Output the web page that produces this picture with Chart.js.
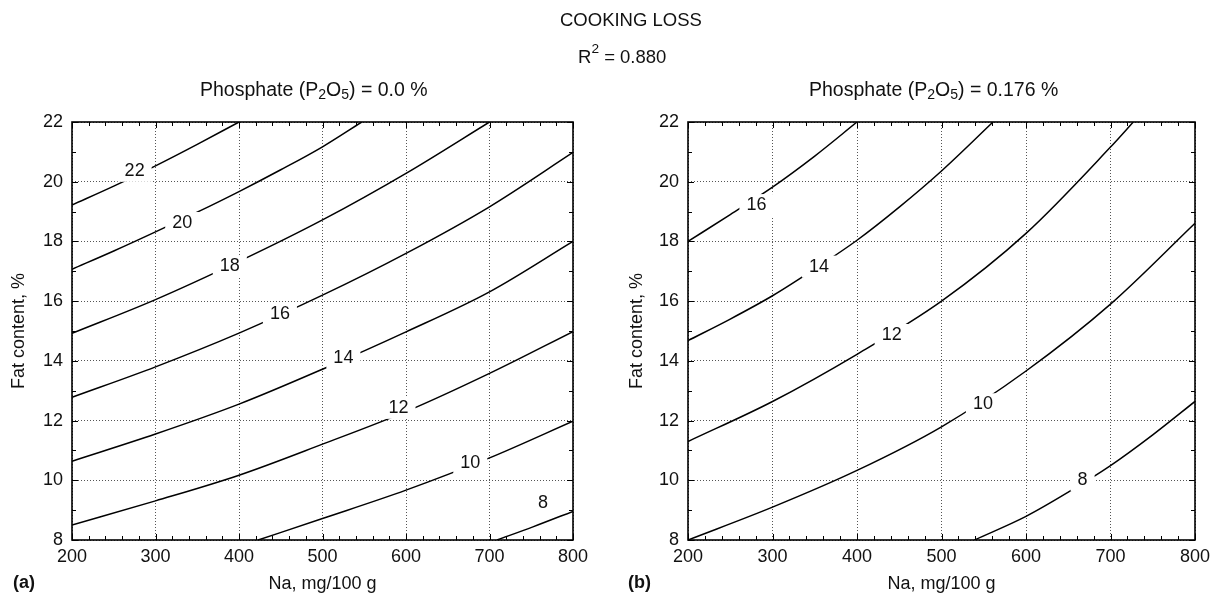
<!DOCTYPE html>
<html>
<head>
<meta charset="utf-8">
<script src="https://cdn.jsdelivr.net/npm/chart.js@4.4.0/dist/chart.umd.min.js"></script>
<style>
html,body{margin:0;padding:0;background:#fff;}
#wrap{position:relative;width:1218px;height:597px;overflow:hidden;font-family:"Liberation Sans",Arial,Helvetica,sans-serif;color:#111;}
canvas{position:absolute;top:0;}
.t{position:absolute;white-space:nowrap;font-size:18.5px;line-height:18.5px;}
.s{font-size:19.5px;line-height:19.5px;}
.t sub{font-size:0.72em;vertical-align:-0.18em;line-height:0;}
.t sup{font-size:0.74em;vertical-align:10px;line-height:0;}
.b{font-weight:bold;font-size:18px;line-height:18px;}
</style>
</head>
<body>
<div id="wrap">
  <canvas id="cA" width="609" height="597" style="left:0px;width:609px;height:597px"></canvas>
  <canvas id="cB" width="609" height="597" style="left:609px;width:609px;height:597px"></canvas>
  <div class="t" style="left:560px;top:11px;">COOKING LOSS</div>
  <div class="t" style="left:578px;top:47.5px;">R<sup>2</sup> = 0.880</div>
  <div class="t s" style="left:200px;top:80px;">Phosphate (P<sub>2</sub>O<sub>5</sub>) = 0.0 %</div>
  <div class="t s" style="left:809px;top:80px;">Phosphate (P<sub>2</sub>O<sub>5</sub>) = 0.176 %</div>
  <div class="t b" style="left:13px;top:573px;">(a)</div>
  <div class="t b" style="left:628px;top:573px;">(b)</div>
</div>
<script>
// ---------- DATA ----------
const xTicks = [200, 300, 400, 500, 600, 700, 800];        // Na, mg/100 g
const yTicks = [8, 10, 12, 14, 16, 18, 20, 22];            // Fat content, %

// Panel (a): Phosphate 0.0 %  — contour lines as [Na, Fat] pairs
const a22 = [[200,19.22],[250,19.85],[300,20.53],[350,21.25],[400,22.0]];
const a20 = [[200,17.07],[250,17.68],[300,18.32],[350,18.98],[400,19.67],[450,20.4],[500,21.17],[547,22.0]];
const a18 = [[200,14.92],[300,16.05],[400,17.33],[500,18.72],[600,20.28],[700,22.0]];
const a16 = [[200,12.78],[300,13.8],[400,14.93],[500,16.2],[600,17.6],[700,19.16],[800,20.98]];
const a14 = [[200,10.64],[300,11.55],[400,12.55],[500,13.72],[600,14.97],[700,16.31],[800,18.0]];
const a12 = [[200,8.5],[300,9.31],[400,10.17],[500,11.21],[600,12.3],[700,13.58],[800,14.98]];
const a10 = [[423,8.0],[500,8.72],[600,9.67],[700,10.75],[800,11.98]];
const a8  = [[709,8.0],[752,8.44],[800,8.96]];
const aLines = [a22, a20, a18, a16, a14, a12, a10, a8];
// contour labels [Na, Fat, level]
const aLabels = [[275,20.4,22],[332,18.65,20],[389,17.2,18],[449,15.6,16],[525,14.14,14],[591,12.46,12],[677,10.62,10],[764,9.28,8]];

// Panel (b): Phosphate 0.176 %
const b16 = [[200,18.0],[250,18.9],[300,19.82],[350,20.86],[400,22.0]];
const b14 = [[200,14.68],[250,15.4],[300,16.18],[350,17.08],[400,18.04],[450,19.15],[500,20.36],[561,22.0]];
const b12 = [[200,11.3],[300,12.64],[400,14.22],[500,16.0],[600,18.27],[700,21.16],[727,22.0]];
const b10 = [[200,8.0],[300,9.1],[400,10.33],[500,11.79],[600,13.66],[700,15.9],[800,18.61]];
const b8  = [[539,8.0],[600,8.79],[650,9.6],[700,10.49],[750,11.52],[800,12.64]];
const bLines = [b16, b14, b12, b10, b8];
const bLabels = [[281,19.25,16],[355,17.19,14],[441,14.9,12],[549,12.58,10],[667,10.03,8]];

// ---------- DRAWING ----------
const FONT = '"Liberation Sans", Arial, Helvetica, sans-serif';

const contourPlugin = {
  id: 'contourDeco',
  afterDatasetsDraw(chart, args, opts) {
    const {ctx, chartArea: a, scales: {x, y}} = chart;
    ctx.save();
    ctx.beginPath();
    ctx.rect(a.left, a.top, a.right - a.left, a.bottom - a.top);
    ctx.clip();
    ctx.font = '18px ' + FONT;
    ctx.textAlign = 'center';
    ctx.textBaseline = 'middle';
    (opts.labels || []).forEach(l => {
      const px = x.getPixelForValue(l[0]);
      const py = y.getPixelForValue(l[1]);
      const txt = String(l[2]);
      const w = ctx.measureText(txt).width + 14;
      const h = 22;
      ctx.fillStyle = '#fff';
      ctx.fillRect(px - w / 2, py - h / 2 + 1, w, h);
      ctx.fillStyle = '#111';
      ctx.fillText(txt, px, py + 1);
    });
    ctx.restore();
  },
  afterDraw(chart) {
    const {ctx, chartArea: a, scales: {x, y}} = chart;
    ctx.save();
    ctx.strokeStyle = '#000';
    ctx.lineWidth = 1;
    ctx.beginPath();
    for (let v = x.min; v <= x.max + 1e-6; v += 20) {
      const px = Math.round(x.getPixelForValue(v)) + 0.5;
      const len = (Math.abs(v % 100) < 1e-6) ? 6 : 4;
      ctx.moveTo(px, a.bottom); ctx.lineTo(px, a.bottom - len);
      ctx.moveTo(px, a.top); ctx.lineTo(px, a.top + len);
    }
    for (let v = y.min; v <= y.max + 1e-6; v += 1) {
      const py = Math.round(y.getPixelForValue(v)) + 0.5;
      const len = (Math.abs(v % 2) < 1e-6) ? 6 : 4;
      ctx.moveTo(a.left, py); ctx.lineTo(a.left + len, py);
      ctx.moveTo(a.right, py); ctx.lineTo(a.right - len, py);
    }
    ctx.stroke();
    ctx.lineWidth = 1.6;
    ctx.strokeRect(a.left, a.top, a.right - a.left, a.bottom - a.top);
    ctx.restore();
  }
};

function makeChart(id, lines, labels, yAxisWidth, rightPad, yTitlePad) {
  const datasets = lines.map(pts => ({
    data: pts.map(p => ({x: p[0], y: p[1]})),
    borderColor: '#000',
    borderWidth: 1.5,
    pointRadius: 0,
    pointHoverRadius: 0,
    fill: false,
    tension: 0.4,
    cubicInterpolationMode: 'monotone'
  }));
  const gridCommon = {
    display: true,
    drawTicks: false,
    color: '#555',
    lineWidth: 1
  };
  return new Chart(document.getElementById(id), {
    type: 'line',
    data: {datasets},
    plugins: [contourPlugin],
    options: {
      responsive: false,
      animation: false,
      devicePixelRatio: 1,
      events: [],
      layout: {padding: {top: 122, right: rightPad, bottom: 0, left: 0}},
      plugins: {
        legend: {display: false},
        tooltip: {enabled: false},
        title: {display: false},
        contourDeco: {labels}
      },
      scales: {
        x: {
          type: 'linear',
          min: 200, max: 800,
          afterBuildTicks: s => { s.ticks = xTicks.map(v => ({value: v})); },
          afterFit: s => { s.height = 57; },
          grid: gridCommon,
          border: {display: false, dash: [1, 2]},
          ticks: {padding: 6, color: '#111', font: {family: FONT, size: 18}, maxRotation: 0, autoSkip: false},
          title: {display: true, text: 'Na, mg/100 g', color: '#111', font: {family: FONT, size: 18}, padding: {top: 0, bottom: 2.5}}
        },
        y: {
          type: 'linear',
          min: 8, max: 22,
          afterBuildTicks: s => { s.ticks = yTicks.map(v => ({value: v})); },
          afterFit: s => { s.width = yAxisWidth; },
          grid: gridCommon,
          border: {display: false, dash: [1, 2]},
          ticks: {padding: 9, color: '#111', font: {family: FONT, size: 18}, autoSkip: false},
          title: {display: true, text: 'Fat content, %', color: '#111', font: {family: FONT, size: 18}, padding: {top: yTitlePad, bottom: 0}}
        }
      }
    }
  });
}

makeChart('cA', aLines, aLabels, 72, 36, 8);
makeChart('cB', bLines, bLabels, 79, 23, 17);
</script>
</body>
</html>
